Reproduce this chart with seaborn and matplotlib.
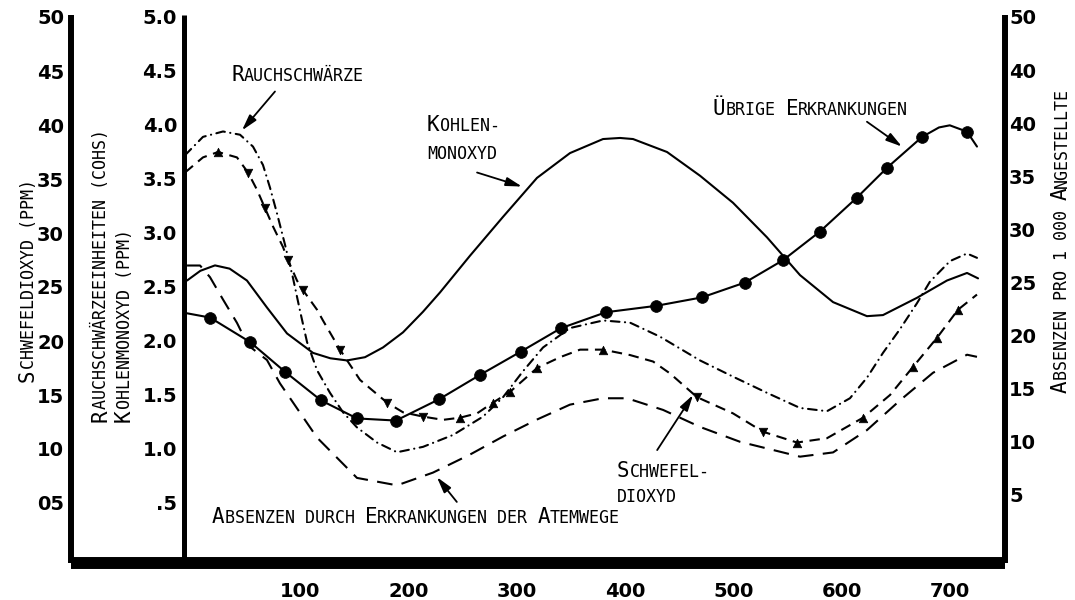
import matplotlib
matplotlib.use("Agg")
import matplotlib.pyplot as plt
import seaborn as sns

# ---------------- data ----------------
x_tick_values = [100, 200, 300, 400, 500, 600, 700]
x_tick_labels = ["100", "200", "300", "400", "500", "600", "700"]

so2_tick_values = [5, 10, 15, 20, 25, 30, 35, 40, 45, 50]
so2_tick_labels = ["05", "10", "15", "20", "25", "30", "35", "40", "45", "50"]

cohs_tick_values = [0.5, 1.0, 1.5, 2.0, 2.5, 3.0, 3.5, 4.0, 4.5, 5.0]
cohs_tick_labels = [".5", "1.0", "1.5", "2.0", "2.5", "3.0", "3.5", "4.0", "4.5", "5.0"]

absence_tick_values = [5, 10, 15, 20, 25, 30, 35, 40, 45, 50]
absence_tick_labels = ["5", "10", "15", "20", "25", "30", "35", "40", "40", "50"]

# Kohlenmonoxyd (ppm) - middle axis
co_x = [-4.3, 8.0, 21.5, 35.0, 51.0, 69.5, 88.0, 112.0, 128.0, 143.4, 160.0, 176.6,
        195.1, 213.5, 229.3, 257.0, 287.5, 318.8, 349.3, 379.8, 395.5, 407.5,
        438.9, 469.4, 499.8, 531.2, 561.7, 592.2, 623.5, 638.3, 669.7, 697.4,
        715.9, 726.1]
co_y = [2.56, 2.65, 2.70, 2.67, 2.56, 2.31, 2.07, 1.89, 1.84, 1.82, 1.85, 1.94,
        2.08, 2.27, 2.45, 2.79, 3.15, 3.51, 3.74, 3.87, 3.88, 3.87,
        3.75, 3.53, 3.28, 2.96, 2.61, 2.36, 2.23, 2.24, 2.40, 2.56,
        2.63, 2.58]

# Rauchschwaerze (COHS) - middle axis
smoke_x = [-6.2, 10.4, 28.9, 44.6, 56.6, 65.8, 72.3, 78.8, 86.2, 93.6, 100.0,
           106.5, 115.7, 127.7, 139.7, 152.6, 171.1, 189.6, 213.6, 241.3, 269.0,
           287.5, 305.9, 324.4, 349.3, 379.8, 404.7, 432.4, 469.4, 499.8, 531.2,
           561.7, 586.6, 607.8, 623.5, 638.3, 654.0, 669.7, 681.7, 700.2, 715.9, 725.1]
smoke_y = [3.72, 3.89, 3.94, 3.91, 3.80, 3.63, 3.42, 3.18, 2.89, 2.58, 2.28,
           1.99, 1.73, 1.52, 1.34, 1.20, 1.06, 0.97, 1.02, 1.13, 1.30,
           1.48, 1.72, 1.94, 2.12, 2.19, 2.17, 2.04, 1.82, 1.67, 1.52,
           1.38, 1.35, 1.47, 1.66, 1.89, 2.11, 2.35, 2.55, 2.74, 2.81, 2.77]

# Schwefeldioxyd (ppm) - outer left axis
so2_x = [-6.2, 10.4, 24.3, 41.8, 52.0, 60.3, 67.7, 75.1, 84.3, 88.9, 97.2,
         102.8, 115.7, 121.2, 136.9, 155.4, 180.3, 195.1, 213.6, 232.1, 247.8,
         263.5, 278.3, 294.0, 318.9, 340.1, 358.6, 379.8, 404.7, 426.0, 441.6,
         466.6, 499.8, 527.5, 558.9, 586.6, 619.9, 644.8, 666.0, 688.2, 707.6, 725.1]
so2_y = [35.6, 37.0, 37.5, 37.0, 35.6, 34.0, 32.3, 30.6, 28.7, 27.5, 25.6,
         24.7, 22.9, 21.9, 19.2, 16.4, 14.3, 13.4, 13.0, 12.7, 12.9,
         13.3, 14.3, 15.3, 17.5, 18.5, 19.2, 19.2, 18.7, 18.1, 17.0,
         14.8, 13.3, 11.6, 10.6, 11.0, 12.9, 15.0, 17.6, 20.3, 22.9, 24.3]
so2_marks = [2, 4, 6, 9, 11, 14, 16, 18, 20, 22, 23, 24, 27, 31, 33, 34, 36, 38, 39, 40]

# Absenzen durch Erkrankungen der Atemwege - right axis
resp_x = [-4.3, 7.7, 16.9, 28.9, 41.8, 52.0, 69.5, 81.5, 115.7, 152.6, 189.6,
          222.8, 257.0, 287.5, 318.9, 349.3, 379.8, 402.0, 435.3, 469.4, 506.3,
          561.7, 592.2, 623.5, 654.0, 684.5, 715.9, 725.1]
resp_y = [26.6, 26.6, 25.5, 23.4, 21.2, 19.1, 17.7, 15.5, 10.4, 6.6, 5.9,
          7.1, 8.8, 10.5, 12.1, 13.5, 14.1, 14.1, 13.0, 11.4, 10.0,
          8.6, 9.0, 11.1, 13.9, 16.5, 18.2, 18.0]

# Uebrige Erkrankungen - right axis
other_x = [-4.3, 16.9, 53.8, 86.1, 119.4, 152.6, 188.6, 228.3, 266.2, 304.0, 341.0,
           382.5, 428.7, 471.2, 510.9, 546.0, 580.1, 614.3, 642.0, 674.3, 690.0,
           700.0, 715.9, 725.1]
other_y = [22.1, 21.7, 19.4, 16.6, 13.9, 12.2, 12.0, 14.0, 16.3, 18.5, 20.7,
           22.2, 22.8, 23.6, 25.0, 27.1, 29.8, 33.0, 35.8, 38.7, 39.6,
           39.8, 39.2, 37.8]
other_marks = [1, 2, 3, 4, 5, 6, 7, 8, 9, 10, 11, 12, 13, 14, 15, 16, 17, 18, 19, 22]

# ---------------- style ----------------
sns.set_theme(style="white")
plt.rcParams["font.family"] = ["DejaVu Sans"]
NUM_FONT = "DejaVu Sans"
LABEL_FONT = ["DejaVu Sans Mono", "DejaVu Sans"]
BIG, SMALL = 15, 12
INK = "black"

W, H = 1075, 600
fig = plt.figure(figsize=(W / 100, H / 100), dpi=100)
fig.patch.set_facecolor("white")

# axes frame (pixel geometry of the reference)
left_px, right_px, top_px, bottom_px = 71, 1005, 15, 563
ax = fig.add_axes([left_px / W, 1 - bottom_px / H, (right_px - left_px) / W,
                   (bottom_px - top_px) / H])
ax.set_facecolor("white")
ax_so2 = ax.twinx()
ax_abs = ax.twinx()

lw = 1.5
# Kohlenmonoxyd
sns.lineplot(x=co_x, y=co_y, ax=ax, color=INK, lw=lw, estimator=None, sort=False,
             solid_joinstyle="round")
# Rauchschwaerze (dash-dot)
sns.lineplot(x=smoke_x, y=smoke_y, ax=ax, color=INK, lw=lw, estimator=None, sort=False,
             linestyle=(0, (4.2, 2.6, 0.1, 2.6)), dash_capstyle="round")
# Schwefeldioxyd (dashed with triangles)
sns.lineplot(x=so2_x, y=so2_y, ax=ax_so2, color=INK, lw=lw, estimator=None, sort=False,
             linestyle=(0, (5.0, 3.2)))
up_x, up_y, dn_x, dn_y = [], [], [], []
for i in so2_marks:
    if so2_y[min(i + 1, len(so2_y) - 1)] - so2_y[i - 1] >= -0.7:
        up_x.append(so2_x[i]); up_y.append(so2_y[i])
    else:
        dn_x.append(so2_x[i]); dn_y.append(so2_y[i])
sns.scatterplot(x=up_x, y=up_y, ax=ax_so2, marker="^", s=38, color=INK, edgecolor=INK, zorder=5)
sns.scatterplot(x=dn_x, y=dn_y, ax=ax_so2, marker="v", s=38, color=INK, edgecolor=INK, zorder=5)
# Absenzen Atemwege (long dashes)
sns.lineplot(x=resp_x, y=resp_y, ax=ax_abs, color=INK, lw=lw, estimator=None, sort=False,
             linestyle=(0, (7.5, 4.5)))
# Uebrige Erkrankungen (solid with dots)
sns.lineplot(x=other_x, y=other_y, ax=ax_abs, color=INK, lw=lw, estimator=None, sort=False,
             marker="o", markevery=other_marks, markersize=8.5, solid_joinstyle="round",
             markerfacecolor=INK, markeredgecolor=INK, markeredgewidth=0.5)

# ---------------- scales ----------------
px_per_x = 1.083
x_zero_px = 191.7
ax.set_xlim((left_px - x_zero_px) / px_per_x, (right_px - x_zero_px) / px_per_x)
mid_zero_px, mid_scale = 557, 108.0
ax.set_ylim(-(bottom_px - mid_zero_px) / mid_scale, (mid_zero_px - top_px) / mid_scale)
ax_so2.set_ylim(-(bottom_px - mid_zero_px) / mid_scale * 10, (mid_zero_px - top_px) / mid_scale * 10)
abs_zero_px, abs_scale = 548, 10.62
ax_abs.set_ylim(-(bottom_px - abs_zero_px) / abs_scale, (abs_zero_px - top_px) / abs_scale)

for a in (ax, ax_so2, ax_abs):
    a.set_xlabel("")
    a.set_ylabel("")
    a.grid(False)
    for s in a.spines.values():
        s.set_visible(False)

sp = ax.spines["left"]
sp.set_visible(True); sp.set_position(("data", -7.1)); sp.set_linewidth(3.6); sp.set_color(INK)
sp.set_capstyle("butt")
sp = ax.spines["bottom"]
sp.set_visible(True); sp.set_linewidth(8.6); sp.set_color(INK); sp.set_capstyle("butt")
sp = ax_so2.spines["left"]
sp.set_visible(True); sp.set_position(("axes", 0)); sp.set_linewidth(4.3); sp.set_color(INK)
sp.set_capstyle("butt")
sp = ax_abs.spines["right"]
sp.set_visible(True); sp.set_linewidth(4.3); sp.set_color(INK); sp.set_capstyle("butt")

tick_font = dict(fontsize=14, fontweight="bold", family=NUM_FONT, color=INK)
ax.set_xticks(x_tick_values, x_tick_labels, **tick_font)
ax.set_yticks(cohs_tick_values, cohs_tick_labels, **tick_font)
ax.tick_params(axis="x", length=0, pad=14)
ax.tick_params(axis="y", length=0, pad=5)

ax_so2.yaxis.tick_left()
ax_so2.set_yticks(so2_tick_values, so2_tick_labels, **tick_font)
ax_so2.tick_params(axis="y", length=0, pad=5)

ax_abs.yaxis.tick_right()
ax_abs.set_yticks(absence_tick_values, absence_tick_labels, **tick_font)
ax_abs.tick_params(axis="y", length=0, pad=3)


# ---------------- small-caps lettering ----------------
def small_caps(xy, text, transform, rotation=0):
    runs = []
    for ch in text:
        big = ch.isupper()
        if runs and runs[-1][1] == big:
            runs[-1][0] += ch
        else:
            runs.append([ch, big])
    prev = None
    gap = 0.0
    for chunk, big in runs:
        s = chunk.upper()
        body = s.rstrip(" ")
        props = dict(fontsize=BIG if big else SMALL, family=LABEL_FONT, color=INK,
                     rotation=rotation, rotation_mode="anchor", ha="left", va="bottom")
        if prev is None:
            prev = ax.text(xy[0], xy[1], body, transform=transform, **props)
        else:
            anchor = (1, 0) if rotation == 0 else (1, 1)
            off = (gap, 0) if rotation == 0 else (0, gap)
            prev = ax.annotate(body, xy=anchor, xycoords=prev, xytext=off,
                               textcoords="offset points", annotation_clip=False, **props)
        gap = (len(s) - len(body)) * 0.602 * SMALL


def fig_px(x, y):
    return (x / W, 1 - y / H)


# axis titles (rotated)
small_caps(fig_px(37.5, 382), "Schwefeldioxyd (ppm)", fig.transFigure, rotation=90)
small_caps(fig_px(110, 422), "Rauchschwärzeeinheiten (cohs)", fig.transFigure, rotation=90)
small_caps(fig_px(134, 422), "Kohlenmonoxyd (ppm)", fig.transFigure, rotation=90)
small_caps(fig_px(1071, 393), "Absenzen pro 1 000 Angestellte", fig.transFigure, rotation=90)

# curve labels
small_caps((36.3, 4.37), "Rauchschwärze", ax.transData)
small_caps((217.3, 3.91), "Kohlen-", ax.transData)
small_caps((217.3, 3.65), "monoxyd", ax.transData)
small_caps((481.3, 4.06), "Übrige Erkrankungen", ax.transData)
small_caps((392.5, 0.70), "Schwefel-", ax.transData)
small_caps((392.5, 0.47), "dioxyd", ax.transData)
small_caps((18.8, 0.28), "Absenzen durch Erkrankungen der Atemwege", ax.transData)

arrow = dict(arrowstyle="-|>,head_length=0.8,head_width=0.22", color=INK, lw=1.3,
             shrinkA=0, shrinkB=0)
for tail, tip in [((76.9, 4.31), (46.4, 3.95)),
                  ((263.5, 3.56), (305.0, 3.43)),
                  ((623.5, 4.03), (655.8, 3.80)),
                  ((429.8, 0.99), (462.9, 1.50)),
                  ((244.8, 0.51), (226.4, 0.74))]:
    ax.annotate("", xy=tip, xytext=tail, arrowprops=arrow, annotation_clip=False)

fig.savefig("out.png", dpi=100)
